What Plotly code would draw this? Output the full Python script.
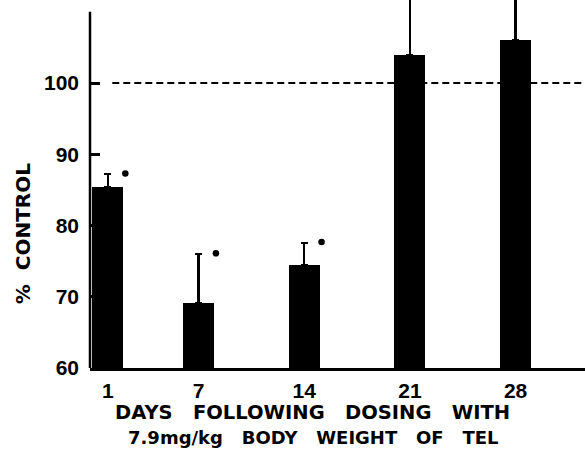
import plotly.graph_objects as go

days = [1, 7, 14, 21, 28]
day_labels = ["1", "7", "14", "21", "28"]
pct_control = [85.4, 69.1, 74.5, 103.9, 106.0]
err_plus = [1.8, 6.9, 3.1, 10.0, 9.5]
significant = [True, True, True, False, False]
y_ticks = [60, 70, 80, 90, 100]
control_level = 100

TFONT = "DejaVu Sans"
NFONT = "Liberation Sans"
NB = "\u00a0"
fig = go.Figure()

fig.add_trace(go.Bar(
    x=days, y=[v - 60 for v in pct_control], base=60,
    width=2.05, marker=dict(color="black", line=dict(width=0)),
    error_y=dict(type="data", symmetric=False, array=err_plus,
                 arrayminus=[0] * len(days), color="black",
                 thickness=2.2, width=3.5),
    showlegend=False, hoverinfo="skip",
))

sig_x = [d + 1.15 for d, s in zip(days, significant) if s]
sig_y = [v + e + 0.1 for v, e, s in zip(pct_control, err_plus, significant) if s]
fig.add_trace(go.Scatter(
    x=sig_x, y=sig_y, mode="markers",
    marker=dict(color="black", size=6.5, symbol="circle"),
    showlegend=False, hoverinfo="skip", cliponaxis=False,
))

# control reference line
fig.add_shape(type="line", xref="paper", yref="y", x0=0.045, x1=1,
              y0=control_level, y1=control_level, layer="below",
              line=dict(color="black", width=2.2, dash="7px,4px"))
# y axis line up to 110
fig.add_shape(type="line", xref="paper", yref="y", x0=0, x1=0,
              y0=60, y1=110, layer="above",
              line=dict(color="black", width=2.5))

fig.update_layout(
    width=585, height=453,
    margin=dict(l=90, r=0, t=0, b=85, autoexpand=False),
    paper_bgcolor="white", plot_bgcolor="white",
    font=dict(family=TFONT, color="black"),
    bargap=0,
)
fig.update_xaxes(
    range=[-0.19, 32.6], tickmode="array", tickvals=days, ticktext=day_labels,
    showline=True, linecolor="black", linewidth=2.5, ticks="",
    showgrid=False, zeroline=False, automargin=False, ticklabelstandoff=2,
    tickfont=dict(family=NFONT, size=21, color="black", weight="bold"),
)
fig.update_yaxes(
    range=[60, 111.65], tickmode="array", tickvals=y_ticks,
    showline=False, ticks="inside", ticklen=10, tickwidth=2.5, tickcolor="black",
    showgrid=False, zeroline=False, automargin=False, ticklabelstandoff=10,
    tickfont=dict(family=NFONT, size=21, color="black", weight="bold"),
)

fig.add_annotation(text="%" + NB * 2 + "CONTROL", xref="paper", yref="paper",
                   x=-0.135, y=0.364, textangle=-90, showarrow=False,
                   font=dict(family=TFONT, size=20, color="black", weight="bold"),
                   xanchor="center", yanchor="middle")
fig.add_annotation(text=(NB * 3).join(["DAYS", "FOLLOWING", "DOSING", "WITH"]),
                   xref="paper", yref="paper",
                   x=0.45, y=-0.12, showarrow=False,
                   font=dict(family=TFONT, size=19.5, color="black", weight="bold"),
                   xanchor="center", yanchor="middle")
fig.add_annotation(text=(NB * 3).join(["7.9mg/kg", "BODY", "WEIGHT", "OF", "TEL"]),
                   xref="paper", yref="paper",
                   x=0.45, y=-0.188, showarrow=False,
                   font=dict(family=TFONT, size=18, color="black", weight="bold"),
                   xanchor="center", yanchor="middle")

fig.write_html("out.html", config={"displayModeBar": False},
               post_script="document.body.style.margin='0';document.body.style.overflow='hidden';")
